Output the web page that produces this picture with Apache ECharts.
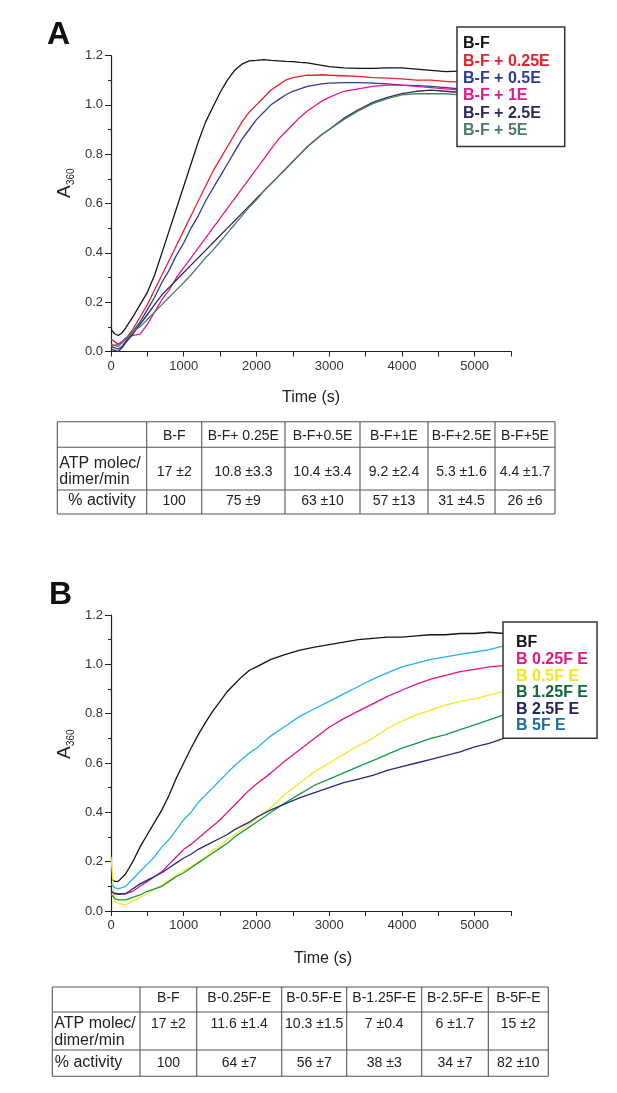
<!DOCTYPE html>
<html>
<head>
<meta charset="utf-8">
<style>
  html, body { margin: 0; padding: 0; background: #fff; }
  #chart { width: 617px; height: 1093px; }
</style>
</head>
<body>
<div id="chart"></div>
<script src="https://cdn.jsdelivr.net/npm/echarts@6/dist/echarts.min.js"></script>
<script>
// ---------- panel A data ----------
var timeA = [0, 50, 100, 150, 200, 300, 400, 500, 600, 700, 800, 900, 1000, 1100, 1200, 1300, 1400, 1500, 1600, 1700, 1800, 1900, 2000, 2100, 2200, 2300, 2400, 2500, 2600, 2700, 2800, 2900, 3000, 3200, 3400, 3600, 3800, 4000, 4200, 4400, 4600, 4800];
var namesA = ['B-F', 'B-F + 0.25E', 'B-F + 0.5E', 'B-F + 1E', 'B-F + 2.5E', 'B-F + 5E'];
var bf = [0.09, 0.072, 0.065, 0.075, 0.095, 0.14, 0.19, 0.24, 0.31, 0.40, 0.49, 0.58, 0.67, 0.76, 0.85, 0.93, 0.99, 1.05, 1.10, 1.14, 1.165, 1.178, 1.18, 1.183, 1.18, 1.178, 1.176, 1.175, 1.172, 1.17, 1.165, 1.16, 1.155, 1.15, 1.148, 1.148, 1.15, 1.15, 1.145, 1.14, 1.135, 1.137];
var bf025 = [0.05, 0.04, 0.03, 0.035, 0.05, 0.09, 0.14, 0.19, 0.25, 0.31, 0.37, 0.43, 0.49, 0.55, 0.61, 0.67, 0.73, 0.78, 0.83, 0.88, 0.93, 0.97, 1.0, 1.03, 1.06, 1.08, 1.10, 1.11, 1.115, 1.12, 1.12, 1.122, 1.12, 1.118, 1.115, 1.11, 1.108, 1.105, 1.10, 1.10, 1.095, 1.092];
var bf05 = [0.02, 0.015, 0.01, 0.02, 0.04, 0.08, 0.12, 0.17, 0.22, 0.28, 0.33, 0.39, 0.44, 0.50, 0.55, 0.61, 0.66, 0.71, 0.76, 0.81, 0.86, 0.90, 0.94, 0.97, 1.0, 1.02, 1.04, 1.055, 1.065, 1.075, 1.08, 1.085, 1.088, 1.09, 1.09, 1.088, 1.085, 1.08, 1.078, 1.075, 1.07, 1.065];
var bf1 = [0.02, 0.025, 0.03, 0.04, 0.055, 0.065, 0.07, 0.11, 0.16, 0.21, 0.25, 0.30, 0.34, 0.38, 0.42, 0.46, 0.50, 0.54, 0.58, 0.62, 0.66, 0.70, 0.74, 0.78, 0.82, 0.86, 0.89, 0.92, 0.95, 0.975, 0.995, 1.015, 1.03, 1.055, 1.065, 1.075, 1.08, 1.08, 1.075, 1.07, 1.065, 1.06];
var bf25 = [0.01, 0.005, 0.0, 0.015, 0.035, 0.07, 0.11, 0.15, 0.19, 0.23, 0.26, 0.29, 0.32, 0.35, 0.38, 0.41, 0.44, 0.47, 0.50, 0.53, 0.56, 0.59, 0.62, 0.65, 0.68, 0.71, 0.74, 0.77, 0.80, 0.83, 0.855, 0.88, 0.90, 0.945, 0.98, 1.01, 1.03, 1.045, 1.055, 1.06, 1.055, 1.05];
var bf5 = [0.03, 0.025, 0.02, 0.035, 0.05, 0.08, 0.10, 0.13, 0.16, 0.19, 0.22, 0.25, 0.28, 0.31, 0.345, 0.38, 0.41, 0.445, 0.48, 0.515, 0.55, 0.585, 0.615, 0.65, 0.68, 0.71, 0.74, 0.77, 0.80, 0.83, 0.855, 0.88, 0.90, 0.94, 0.975, 1.005, 1.025, 1.04, 1.045, 1.045, 1.045, 1.04];
var valuesA = [bf, bf025, bf05, bf1, bf25, bf5];
var lineColorsA = ['#141414', '#e8212b', '#2e3a96', '#e2188c', '#2b2c5e', '#4b7f62'];
var textColorsA = ['#141414', '#e8212b', '#2e3a96', '#e2188c', '#2b2c5e', '#4b7f62'];

// ---------- panel B data ----------
var timeB = [0, 50, 100, 200, 300, 400, 500, 600, 700, 800, 900, 1000, 1100, 1200, 1300, 1400, 1500, 1600, 1700, 1800, 1900, 2000, 2200, 2400, 2600, 2800, 3000, 3200, 3400, 3600, 3800, 4000, 4200, 4400, 4600, 4800, 5000, 5200, 5400];
var namesB = ['BF', 'B 0.25F E', 'B 0.5F E', 'B 1.25F E', 'B 2.5F E', 'B 5F E'];
var bBF = [0.13, 0.12, 0.12, 0.15, 0.20, 0.26, 0.31, 0.36, 0.41, 0.47, 0.54, 0.60, 0.66, 0.715, 0.765, 0.81, 0.85, 0.89, 0.92, 0.95, 0.975, 0.99, 1.02, 1.04, 1.058, 1.07, 1.08, 1.09, 1.10, 1.105, 1.11, 1.11, 1.115, 1.12, 1.12, 1.125, 1.125, 1.13, 1.125];
var b025 = [0.08, 0.072, 0.07, 0.07, 0.08, 0.10, 0.12, 0.14, 0.16, 0.19, 0.22, 0.25, 0.27, 0.295, 0.32, 0.345, 0.37, 0.40, 0.43, 0.46, 0.49, 0.515, 0.56, 0.61, 0.655, 0.70, 0.745, 0.78, 0.81, 0.84, 0.87, 0.895, 0.92, 0.94, 0.955, 0.97, 0.98, 0.99, 0.995];
var b05 = [0.22, 0.04, 0.03, 0.025, 0.04, 0.055, 0.07, 0.09, 0.105, 0.125, 0.145, 0.165, 0.18, 0.20, 0.22, 0.245, 0.265, 0.29, 0.31, 0.33, 0.355, 0.375, 0.42, 0.475, 0.52, 0.565, 0.60, 0.635, 0.67, 0.70, 0.74, 0.77, 0.795, 0.815, 0.835, 0.85, 0.86, 0.875, 0.89];
var b125 = [0.07, 0.05, 0.045, 0.045, 0.055, 0.065, 0.08, 0.09, 0.10, 0.12, 0.14, 0.155, 0.175, 0.195, 0.215, 0.235, 0.255, 0.275, 0.30, 0.32, 0.34, 0.36, 0.40, 0.44, 0.475, 0.51, 0.535, 0.56, 0.585, 0.61, 0.635, 0.66, 0.68, 0.70, 0.715, 0.735, 0.755, 0.775, 0.795];
var b25 = [0.08, 0.07, 0.068, 0.07, 0.09, 0.11, 0.125, 0.14, 0.155, 0.175, 0.195, 0.215, 0.23, 0.25, 0.265, 0.28, 0.295, 0.31, 0.33, 0.345, 0.36, 0.38, 0.41, 0.435, 0.46, 0.48, 0.50, 0.52, 0.535, 0.55, 0.57, 0.585, 0.60, 0.615, 0.63, 0.645, 0.665, 0.68, 0.70];
var b5 = [0.11, 0.095, 0.09, 0.10, 0.13, 0.16, 0.19, 0.22, 0.26, 0.29, 0.33, 0.37, 0.40, 0.44, 0.47, 0.50, 0.53, 0.56, 0.59, 0.615, 0.64, 0.66, 0.71, 0.75, 0.79, 0.82, 0.85, 0.88, 0.91, 0.94, 0.965, 0.99, 1.005, 1.02, 1.03, 1.04, 1.05, 1.06, 1.075];
var valuesB = [bBF, b025, b05, b125, b25, b5];
var lineColorsB = ['#141414', '#e2167e', '#f6e824', '#18994a', '#27297a', '#25b3e8'];
var textColorsB = ['#141414', '#e5177f', '#f2e51a', '#0f6b35', '#22245e', '#1b6f9e'];

// ---------- tables ----------
var headA = ['B-F', 'B-F+ 0.25E', 'B-F+0.5E', 'B-F+1E', 'B-F+2.5E', 'B-F+5E'];
var atpA = ['17 ±2', '10.8 ±3.3', '10.4 ±3.4', '9.2 ±2.4', '5.3 ±1.6', '4.4 ±1.7'];
var actA = ['100', '75 ±9', '63 ±10', '57 ±13', '31 ±4.5', '26 ±6'];
var headB = ['B-F', 'B-0.25F-E', 'B-0.5F-E', 'B-1.25F-E', 'B-2.5F-E', 'B-5F-E'];
var atpB = ['17 ±2', '11.6 ±1.4', '10.3 ±1.5', '7 ±0.4', '6 ±1.7', '15 ±2'];
var actB = ['100', '64 ±7', '56 ±7', '38 ±3', '34 ±7', '82 ±10'];

var FONT = "'Liberation Sans', Arial, Helvetica, sans-serif";

function pairs(t, v) {
    return t.map(function (x, i) { return [x, v[i]]; });
}

function xAxisFor(idx, gap, pad) {
    return {
        gridIndex: idx, type: 'value', min: 0, max: 5500, interval: 500,
        axisLine: { lineStyle: { color: '#222', width: 1.2 } },
        axisTick: { length: 5, lineStyle: { color: '#222', width: 1 } },
        axisLabel: {
            margin: 8, fontSize: 13, color: '#333', fontFamily: FONT,
            formatter: function (v) { return (v % 1000 === 0 && v <= 5000) ? String(v) : ''; }
        },
        splitLine: { show: false },
        name: 'Time (s)', nameLocation: 'middle', nameGap: gap,
        nameTextStyle: { fontSize: 16, color: '#222', fontFamily: FONT, padding: pad }
    };
}

function yAxisFor(idx) {
    return {
        gridIndex: idx, type: 'value', min: 0, max: 1.2, interval: 0.2,
        axisLine: { show: true, lineStyle: { color: '#222', width: 1.2 } },
        axisTick: { show: true, length: 6, lineStyle: { color: '#222' } },
        minorTick: { show: true, splitNumber: 2, length: 3, lineStyle: { color: '#222' } },
        axisLabel: {
            margin: 8, fontSize: 13, color: '#333', fontFamily: FONT,
            formatter: function (v) { return v.toFixed(1); }
        },
        splitLine: { show: false }
    };
}

function legendFor(names, colors, left, top, lh, padding) {
    return {
        orient: 'vertical', left: left, top: top, icon: 'none',
        itemWidth: 0, itemHeight: 10, itemGap: 0, padding: padding,
        backgroundColor: '#fff', borderColor: '#333', borderWidth: 1.5,
        selectedMode: false,
        textStyle: { fontSize: 16, fontWeight: 'bold', lineHeight: lh, fontFamily: FONT },
        data: names.map(function (n, i) { return { name: n, textStyle: { color: colors[i] } }; })
    };
}

// table drawn with graphic lines and texts
function tableGraphic(xs, ys, head, atp, act, opt) {
    var els = [];
    var stroke = { stroke: '#555', lineWidth: 1.1 };
    xs.forEach(function (x) {
        els.push({ type: 'line', shape: { x1: x, y1: ys[0], x2: x, y2: ys[ys.length - 1] }, style: stroke });
    });
    ys.forEach(function (y) {
        els.push({ type: 'line', shape: { x1: xs[0], y1: y, x2: xs[xs.length - 1], y2: y }, style: stroke });
    });
    function txt(s, x, y, size, align) {
        els.push({ type: 'text', x: x, y: y, style: { text: s, fontSize: size, fontFamily: FONT, fill: '#222', align: align || 'center', verticalAlign: 'middle' } });
    }
    for (var i = 0; i < head.length; i++) {
        var cx = (xs[i + 1] + xs[i + 2]) / 2;
        txt(head[i], cx, opt.headY, 14);
        txt(atp[i], cx, opt.atpY, 14);
        txt(act[i], cx, opt.actY, 14);
    }
    txt('ATP molec/', xs[0] + 2, opt.labY1, 16, 'left');
    txt('dimer/min', xs[0] + 2, opt.labY2, 16, 'left');
    if (opt.actCenter) txt('% activity', (xs[0] + xs[1]) / 2, opt.actY, 16);
    else txt('% activity', xs[0] + 2.5, opt.actY, 16, 'left');
    return els;
}

function yTitle(x, y) {
    return {
        type: 'group', x: x, y: y, rotation: Math.PI / 2,
        children: [
            { type: 'text', x: 0, y: 0, style: { text: 'A', fontSize: 19, fontFamily: FONT, fill: '#222', align: 'left', verticalAlign: 'bottom' } },
            { type: 'text', x: 13, y: 2, style: { text: '360', fontSize: 10, fontFamily: FONT, fill: '#222', align: 'left', verticalAlign: 'bottom' } }
        ]
    };
}

var series = [];
namesA.forEach(function (n, i) {
    series.push({ name: n, type: 'line', xAxisIndex: 0, yAxisIndex: 0, showSymbol: false, silent: true,
        lineStyle: { color: lineColorsA[i], width: 1.3 }, itemStyle: { color: lineColorsA[i] },
        data: pairs(timeA, valuesA[i]) });
});
namesB.forEach(function (n, i) {
    series.push({ name: n, type: 'line', xAxisIndex: 1, yAxisIndex: 1, showSymbol: false, silent: true,
        lineStyle: { color: lineColorsB[i], width: 1.3 }, itemStyle: { color: lineColorsB[i] },
        data: pairs(timeB, valuesB[i]) });
});

var graphics = [
    { type: 'text', x: 47, y: 35, style: { text: 'A', fontSize: 32, fontWeight: 'bold', fontFamily: FONT, fill: '#111', verticalAlign: 'middle' } },
    { type: 'text', x: 49, y: 595, style: { text: 'B', fontSize: 32, fontWeight: 'bold', fontFamily: FONT, fill: '#111', verticalAlign: 'middle' } },
    yTitle(74, 198),
    yTitle(74, 759)
];
graphics = graphics.concat(
    tableGraphic([57.3, 146.7, 201.7, 285, 360, 428, 495, 555], [421.7, 447.3, 490, 514], headA, atpA, actA,
        { headY: 436, atpY: 472, actY: 501, labY1: 464, labY2: 480, actCenter: true }),
    tableGraphic([52.3, 140, 196.7, 281.7, 346.7, 421.7, 488.3, 548.3], [987, 1012, 1050, 1076.3], headB, atpB, actB,
        { headY: 998.5, atpY: 1024, actY: 1063, labY1: 1024, labY2: 1040.5, actCenter: false })
);

var chart = echarts.init(document.getElementById('chart'));
var option = {
    animation: false,
    backgroundColor: '#fff',
    textStyle: { fontFamily: FONT },
    grid: [
        { left: 111, top: 55.5, width: 400, height: 296 },
        { left: 111, top: 615, width: 400, height: 296 }
    ],
    xAxis: [xAxisFor(0, 38, 0), xAxisFor(1, 40, [0, 0, 0, 24])],
    yAxis: [yAxisFor(0), yAxisFor(1)],
    legend: [
        legendFor(namesA, textColorsA, 457, 27, 17.3, [8.3, 15, 7.5, 1]),
        legendFor(namesB, textColorsB, 503, 622, 16.6, [12.7, 9, 4, 8])
    ],
    graphic: graphics,
    series: series
};
chart.setOption(option);
</script>
</body>
</html>
